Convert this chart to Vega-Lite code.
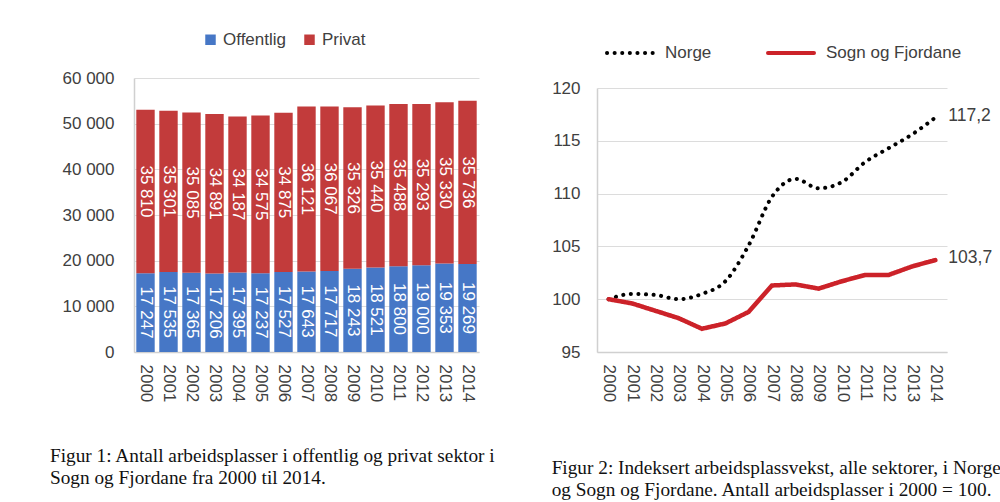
{
  "$schema": "https://vega.github.io/schema/vega-lite/v6.json",
  "background": "white",
  "padding": {"left": 50, "top": 28, "right": 0, "bottom": 0},
  "spacing": 55,
  "resolve": {"scale": {"x": "independent", "y": "independent", "color": "independent", "strokeDash": "independent"}, "legend": {"color": "independent", "strokeDash": "independent"}, "axis": {"x": "independent", "y": "independent"}},
  "config": {
    "locale": {"number": {"decimal": ",", "thousands": " ", "grouping": [3], "currency": ["", " kr"]}},
    "view": {"stroke": null},
    "font": "Liberation Sans",
    "axis": {"labelFont": "Liberation Sans", "labelFontSize": 17, "labelColor": "#404040", "domainColor": "#d0d0d0", "domainWidth": 1.5, "gridColor": "#dcdcdc", "ticks": false, "title": null},
    "legend": {"labelFont": "Liberation Sans", "labelFontSize": 17, "labelColor": "#404040", "title": null, "direction": "horizontal", "orient": "none"}
  },
  "hconcat": [
    {
      "width": 345,
      "height": 274,
      "title": {"text": ["Figur 1: Antall arbeidsplasser i offentlig og privat sektor i", "Sogn og Fjordane fra 2000 til 2014."], "orient": "bottom", "anchor": "start", "frame": "bounds", "font": "Liberation Serif", "fontSize": 19.3, "fontWeight": "normal", "color": "#111111", "lineHeight": 22, "offset": 45, "dx": -12},
      "data": {"values": [
        {"year": "2000", "sektor": "Offentlig", "antall": 17247}, {"year": "2000", "sektor": "Privat", "antall": 35810},
        {"year": "2001", "sektor": "Offentlig", "antall": 17535}, {"year": "2001", "sektor": "Privat", "antall": 35301},
        {"year": "2002", "sektor": "Offentlig", "antall": 17365}, {"year": "2002", "sektor": "Privat", "antall": 35085},
        {"year": "2003", "sektor": "Offentlig", "antall": 17206}, {"year": "2003", "sektor": "Privat", "antall": 34891},
        {"year": "2004", "sektor": "Offentlig", "antall": 17395}, {"year": "2004", "sektor": "Privat", "antall": 34187},
        {"year": "2005", "sektor": "Offentlig", "antall": 17237}, {"year": "2005", "sektor": "Privat", "antall": 34575},
        {"year": "2006", "sektor": "Offentlig", "antall": 17527}, {"year": "2006", "sektor": "Privat", "antall": 34875},
        {"year": "2007", "sektor": "Offentlig", "antall": 17643}, {"year": "2007", "sektor": "Privat", "antall": 36121},
        {"year": "2008", "sektor": "Offentlig", "antall": 17717}, {"year": "2008", "sektor": "Privat", "antall": 36067},
        {"year": "2009", "sektor": "Offentlig", "antall": 18243}, {"year": "2009", "sektor": "Privat", "antall": 35326},
        {"year": "2010", "sektor": "Offentlig", "antall": 18521}, {"year": "2010", "sektor": "Privat", "antall": 35440},
        {"year": "2011", "sektor": "Offentlig", "antall": 18800}, {"year": "2011", "sektor": "Privat", "antall": 35488},
        {"year": "2012", "sektor": "Offentlig", "antall": 19000}, {"year": "2012", "sektor": "Privat", "antall": 35293},
        {"year": "2013", "sektor": "Offentlig", "antall": 19353}, {"year": "2013", "sektor": "Privat", "antall": 35330},
        {"year": "2014", "sektor": "Offentlig", "antall": 19269}, {"year": "2014", "sektor": "Privat", "antall": 35736}
      ]},
      "layer": [
        {
          "mark": {"type": "bar"},
          "encoding": {
            "x": {"field": "year", "type": "ordinal", "scale": {"paddingInner": 0.2, "paddingOuter": 0.1}, "axis": {"labelAngle": 90, "labelPadding": 12}},
            "y": {"field": "antall", "type": "quantitative", "stack": "zero", "scale": {"domain": [0, 60000]}, "axis": {"values": [0, 10000, 20000, 30000, 40000, 50000, 60000], "format": ",.0f", "labelPadding": 20}},
            "order": {"field": "sektor", "sort": "ascending"},
            "color": {"field": "sektor", "type": "nominal", "scale": {"domain": ["Offentlig", "Privat"], "range": ["#4677c6", "#c23b3b"]}, "legend": {"legendX": 68, "legendY": -47, "symbolType": "square", "symbolSize": 110, "columnPadding": 14, "labelOffset": 4}}
          }
        },
        {
          "mark": {"type": "text", "angle": 90, "color": "white", "fontSize": 17, "font": "Liberation Sans"},
          "encoding": {
            "x": {"field": "year", "type": "ordinal"},
            "y": {"field": "antall", "type": "quantitative", "stack": "zero", "bandPosition": 0.5},
            "order": {"field": "sektor", "sort": "ascending"},
            "detail": {"field": "sektor"},
            "text": {"field": "antall", "type": "quantitative", "format": ",.0f"}
          }
        }
      ]
    },
    {
      "width": 350,
      "height": 274,
      "title": {"text": ["Figur 2: Indeksert arbeidsplassvekst, alle sektorer, i Norge", "og Sogn og Fjordane. Antall arbeidsplasser i 2000 = 100."], "orient": "bottom", "anchor": "start", "frame": "bounds", "font": "Liberation Serif", "fontSize": 19.3, "fontWeight": "normal", "color": "#111111", "lineHeight": 22, "offset": 57, "dx": 0},
      "data": {"values": [
        {"year": "2000", "serie": "Norge", "indeks": 100.0}, {"year": "2001", "serie": "Norge", "indeks": 100.5},
        {"year": "2002", "serie": "Norge", "indeks": 100.4}, {"year": "2003", "serie": "Norge", "indeks": 100.0},
        {"year": "2004", "serie": "Norge", "indeks": 100.5}, {"year": "2005", "serie": "Norge", "indeks": 101.7},
        {"year": "2006", "serie": "Norge", "indeks": 105.1}, {"year": "2007", "serie": "Norge", "indeks": 109.7},
        {"year": "2008", "serie": "Norge", "indeks": 111.4}, {"year": "2009", "serie": "Norge", "indeks": 110.5},
        {"year": "2010", "serie": "Norge", "indeks": 111.1}, {"year": "2011", "serie": "Norge", "indeks": 113.0},
        {"year": "2012", "serie": "Norge", "indeks": 114.3}, {"year": "2013", "serie": "Norge", "indeks": 115.6},
        {"year": "2014", "serie": "Norge", "indeks": 117.2},
        {"year": "2000", "serie": "Sogn og Fjordane", "indeks": 100.0}, {"year": "2001", "serie": "Sogn og Fjordane", "indeks": 99.6},
        {"year": "2002", "serie": "Sogn og Fjordane", "indeks": 98.9}, {"year": "2003", "serie": "Sogn og Fjordane", "indeks": 98.2},
        {"year": "2004", "serie": "Sogn og Fjordane", "indeks": 97.2}, {"year": "2005", "serie": "Sogn og Fjordane", "indeks": 97.7},
        {"year": "2006", "serie": "Sogn og Fjordane", "indeks": 98.8}, {"year": "2007", "serie": "Sogn og Fjordane", "indeks": 101.3},
        {"year": "2008", "serie": "Sogn og Fjordane", "indeks": 101.4}, {"year": "2009", "serie": "Sogn og Fjordane", "indeks": 101.0},
        {"year": "2010", "serie": "Sogn og Fjordane", "indeks": 101.7}, {"year": "2011", "serie": "Sogn og Fjordane", "indeks": 102.3},
        {"year": "2012", "serie": "Sogn og Fjordane", "indeks": 102.3}, {"year": "2013", "serie": "Sogn og Fjordane", "indeks": 103.1},
        {"year": "2014", "serie": "Sogn og Fjordane", "indeks": 103.7}
      ]},
      "encoding": {
        "x": {"field": "year", "type": "ordinal", "scale": {"type": "point", "padding": 0.5}, "axis": {"labelAngle": 90, "labelPadding": 12}},
        "y": {"field": "indeks", "type": "quantitative", "scale": {"domain": [95, 120], "range": [274, 10], "zero": false}, "axis": {"values": [95, 100, 105, 110, 115, 120], "labelPadding": 17}}
      },
      "layer": [
        {
          "transform": [{"filter": "datum.serie === 'Norge'"}],
          "mark": {"type": "line", "interpolate": "monotone", "strokeCap": "round", "strokeWidth": 4},
          "encoding": {
            "color": {"field": "serie", "type": "nominal", "scale": {"domain": ["Norge", "Sogn og Fjordane"], "range": ["#000000", "#cc2229"]}, "legend": {"legendX": 8, "legendY": -50, "symbolType": "stroke", "symbolSize": 2116, "symbolStrokeWidth": 4, "columnPadding": 48, "labelOffset": 10, "encode": {"symbols": {"update": {"strokeCap": {"value": "round"}}}}}},
            "strokeDash": {"field": "serie", "type": "nominal", "scale": {"domain": ["Norge", "Sogn og Fjordane"], "range": [[0.1, 7.5], [1, 0]]}, "legend": {"legendX": 8, "legendY": -50, "symbolType": "stroke", "symbolSize": 2116, "symbolStrokeWidth": 4, "columnPadding": 48, "labelOffset": 10, "encode": {"symbols": {"update": {"strokeCap": {"value": "round"}}}}}}
          }
        },
        {
          "transform": [{"filter": "datum.serie === 'Sogn og Fjordane'"}],
          "mark": {"type": "line", "strokeCap": "round", "strokeWidth": 4.5},
          "encoding": {
            "color": {"field": "serie", "type": "nominal"},
            "strokeDash": {"field": "serie", "type": "nominal"}
          }
        },
        {
          "transform": [{"filter": "datum.year === '2014'"}],
          "mark": {"type": "text", "align": "left", "baseline": "middle", "dx": 13, "dy": -2, "fontSize": 17.5, "font": "Liberation Sans", "color": "#404040"},
          "encoding": {
            "text": {"field": "indeks", "type": "quantitative", "format": ".1f"}
          }
        }
      ]
    }
  ]
}
